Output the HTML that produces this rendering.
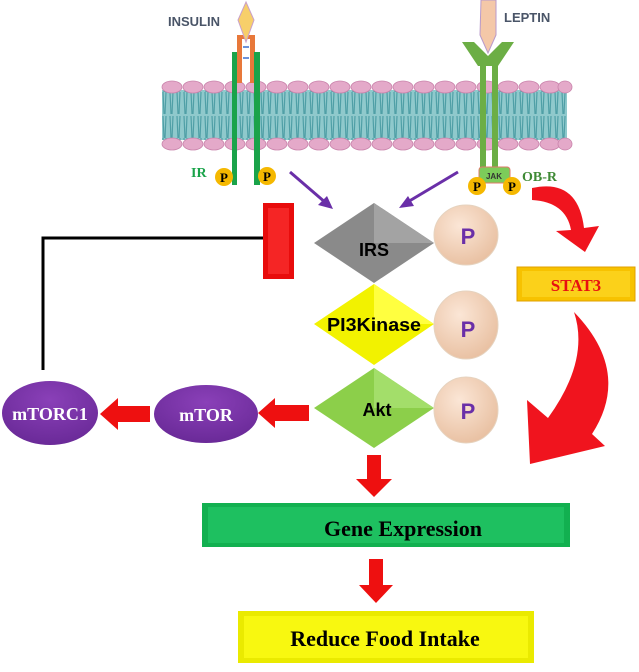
<!DOCTYPE html>
<html><head><meta charset="utf-8"><style>
html,body{margin:0;padding:0;background:#fff;}
svg{display:block;}
</style></head><body>
<svg width="639" height="672" viewBox="0 0 639 672" xmlns="http://www.w3.org/2000/svg">
<defs>
<pattern id="tails" width="7" height="46" patternUnits="userSpaceOnUse">
<rect width="7" height="46" fill="#8fc9cc"/>
<line x1="2" y1="0" x2="3" y2="22" stroke="#4f9fa6" stroke-width="1.2"/>
<line x1="5" y1="0" x2="4" y2="22" stroke="#4f9fa6" stroke-width="1.2"/>
<line x1="2" y1="24" x2="3" y2="46" stroke="#4f9fa6" stroke-width="1.2"/>
<line x1="5" y1="24" x2="4" y2="46" stroke="#4f9fa6" stroke-width="1.2"/>
</pattern>
<radialGradient id="pg" cx="40%" cy="35%" r="70%"><stop offset="0" stop-color="#fbe6d6"/><stop offset="1" stop-color="#e8bfa0"/></radialGradient>
<radialGradient id="vg" cx="50%" cy="30%" r="70%"><stop offset="0" stop-color="#8a40b8"/><stop offset="1" stop-color="#6a2a98"/></radialGradient>
</defs>

<!-- membrane -->
<rect x="162" y="90" width="405" height="50" fill="url(#tails)"/>
<g fill="#e4a9c9" stroke="#c983ab" stroke-width="0.8">
<ellipse cx="172" cy="87" rx="10" ry="6"/><ellipse cx="193" cy="87" rx="10" ry="6"/><ellipse cx="214" cy="87" rx="10" ry="6"/><ellipse cx="235" cy="87" rx="10" ry="6"/><ellipse cx="256" cy="87" rx="10" ry="6"/><ellipse cx="277" cy="87" rx="10" ry="6"/><ellipse cx="298" cy="87" rx="10" ry="6"/><ellipse cx="319" cy="87" rx="10" ry="6"/><ellipse cx="340" cy="87" rx="10" ry="6"/><ellipse cx="361" cy="87" rx="10" ry="6"/><ellipse cx="382" cy="87" rx="10" ry="6"/><ellipse cx="403" cy="87" rx="10" ry="6"/><ellipse cx="424" cy="87" rx="10" ry="6"/><ellipse cx="445" cy="87" rx="10" ry="6"/><ellipse cx="466" cy="87" rx="10" ry="6"/><ellipse cx="487" cy="87" rx="10" ry="6"/><ellipse cx="508" cy="87" rx="10" ry="6"/><ellipse cx="529" cy="87" rx="10" ry="6"/><ellipse cx="550" cy="87" rx="10" ry="6"/><ellipse cx="565" cy="87" rx="7" ry="6"/>
<ellipse cx="172" cy="144" rx="10" ry="6"/><ellipse cx="193" cy="144" rx="10" ry="6"/><ellipse cx="214" cy="144" rx="10" ry="6"/><ellipse cx="235" cy="144" rx="10" ry="6"/><ellipse cx="256" cy="144" rx="10" ry="6"/><ellipse cx="277" cy="144" rx="10" ry="6"/><ellipse cx="298" cy="144" rx="10" ry="6"/><ellipse cx="319" cy="144" rx="10" ry="6"/><ellipse cx="340" cy="144" rx="10" ry="6"/><ellipse cx="361" cy="144" rx="10" ry="6"/><ellipse cx="382" cy="144" rx="10" ry="6"/><ellipse cx="403" cy="144" rx="10" ry="6"/><ellipse cx="424" cy="144" rx="10" ry="6"/><ellipse cx="445" cy="144" rx="10" ry="6"/><ellipse cx="466" cy="144" rx="10" ry="6"/><ellipse cx="487" cy="144" rx="10" ry="6"/><ellipse cx="508" cy="144" rx="10" ry="6"/><ellipse cx="529" cy="144" rx="10" ry="6"/><ellipse cx="550" cy="144" rx="10" ry="6"/><ellipse cx="565" cy="144" rx="7" ry="6"/>
</g>

<!-- insulin receptor -->
<text x="168" y="26" font-family="Liberation Sans, sans-serif" font-weight="bold" font-size="13" fill="#4a5568">INSULIN</text>
<rect x="237" y="35" width="5" height="48" fill="#e8783a"/>
<rect x="250" y="35" width="5" height="48" fill="#e8783a"/>
<rect x="242" y="35" width="8" height="4" fill="#e8783a"/>
<polygon points="246,2 254,20 246,42 238,20" fill="#f7cf6a" stroke="#c9a0c9" stroke-width="1"/>
<rect x="232" y="52" width="5" height="133" fill="#1aa34a"/>
<rect x="254" y="52" width="6" height="133" fill="#1aa34a"/>
<line x1="243" y1="47" x2="249" y2="47" stroke="#3a6fd0" stroke-width="1.5"/>
<line x1="243" y1="58" x2="249" y2="58" stroke="#3a6fd0" stroke-width="1.5"/>
<text x="191" y="177" font-family="Liberation Serif, serif" font-weight="bold" font-size="14" fill="#1aa34a">IR</text>
<circle cx="224" cy="177" r="9" fill="#f5b800"/><text x="224" y="182" text-anchor="middle" font-family="Liberation Serif, serif" font-size="13" font-weight="bold">P</text>
<circle cx="267" cy="176" r="9" fill="#f5b800"/><text x="267" y="181" text-anchor="middle" font-family="Liberation Serif, serif" font-size="13" font-weight="bold">P</text>

<!-- leptin receptor -->
<polygon points="481,0 496,0 496,35 488,53 480,35" fill="#f4c8a8" stroke="#b89acb" stroke-width="1"/>
<text x="504" y="22" font-family="Liberation Sans, sans-serif" font-weight="bold" font-size="13" fill="#4a5568">LEPTIN</text>
<polygon points="462,42 474,42 488,56 502,42 514,42 498,66 478,66" fill="#6cae45"/>
<rect x="480" y="60" width="6" height="110" fill="#6cae45"/>
<rect x="492" y="60" width="6" height="110" fill="#6cae45"/>
<rect x="479" y="167" width="31" height="16" rx="3" fill="#7ccc5a" stroke="#e07a6a" stroke-width="1"/>
<text x="494" y="179" text-anchor="middle" font-family="Liberation Sans, sans-serif" font-size="8" font-weight="bold" fill="#333">JAK</text>
<circle cx="477" cy="186" r="9" fill="#f5b800"/><text x="477" y="191" text-anchor="middle" font-family="Liberation Serif, serif" font-size="13" font-weight="bold">P</text>
<circle cx="512" cy="186" r="9" fill="#f5b800"/><text x="512" y="191" text-anchor="middle" font-family="Liberation Serif, serif" font-size="13" font-weight="bold">P</text>
<text x="522" y="181" font-family="Liberation Serif, serif" font-weight="bold" font-size="14" fill="#3f8a35">OB-R</text>

<!-- purple arrows -->
<g stroke="#6a2fa8" stroke-width="3" fill="#6a2fa8">
<line x1="290" y1="172" x2="326" y2="203"/>
<line x1="458" y1="172" x2="406" y2="203"/>
</g>
<polygon points="333,209 318,205 327,196" fill="#6a2fa8"/>
<polygon points="399,208 408,196 414,206" fill="#6a2fa8"/>

<!-- inhibition -->
<polyline points="263,238 43,238 43,370" fill="none" stroke="#000" stroke-width="3"/>
<rect x="263" y="203" width="31" height="76" fill="#e80c0c"/>
<rect x="268" y="208" width="21" height="66" fill="#f52525"/>

<!-- diamonds -->
<polygon points="374,203 434,243 374,283 314,243" fill="#8a8a8a"/>
<polygon points="374,203 434,243 374,243" fill="#a3a3a3"/>
<text x="374" y="256" text-anchor="middle" font-family="Liberation Sans Narrow, Liberation Sans, sans-serif" font-weight="bold" font-size="18">IRS</text>
<polygon points="374,284 434,324 374,365 314,324" fill="#f2f200"/>
<polygon points="374,284 434,324 374,324" fill="#ffff40"/>
<text x="374" y="331" text-anchor="middle" font-family="Liberation Sans Narrow, Liberation Sans, sans-serif" font-weight="bold" font-size="18" textLength="94" lengthAdjust="spacingAndGlyphs">PI3Kinase</text>
<polygon points="374,368 434,408 374,448 314,408" fill="#8ccf4a"/>
<polygon points="374,368 434,408 374,408" fill="#a3de6a"/>
<text x="377" y="416" text-anchor="middle" font-family="Liberation Sans Narrow, Liberation Sans, sans-serif" font-weight="bold" font-size="18">Akt</text>

<!-- P circles -->
<g font-family="Liberation Sans, sans-serif" font-size="22" font-weight="bold" fill="#6a2fa8" text-anchor="middle">
<ellipse cx="466" cy="235" rx="32" ry="30" fill="url(#pg)" stroke="#e6d3bf"/>
<text x="468" y="244">P</text>
<ellipse cx="466" cy="325" rx="32" ry="34" fill="url(#pg)" stroke="#e6d3bf"/>
<text x="468" y="337">P</text>
<ellipse cx="466" cy="410" rx="32" ry="33" fill="url(#pg)" stroke="#e6d3bf"/>
<text x="468" y="419">P</text>
</g>

<!-- STAT3 -->
<rect x="517" y="267" width="118" height="34" fill="#f7c200" stroke="#e0a000"/>
<rect x="522" y="271" width="108" height="26" fill="#fbd11a"/>
<text x="576" y="291" text-anchor="middle" font-family="Liberation Serif, serif" font-weight="bold" font-size="17" fill="#e81010">STAT3</text>

<!-- red curved arrows -->
<path d="M532,188 Q578,178 584,228 L599,226 L585,252 L556,231 L571,230 Q566,202 532,200 Z" fill="#f0141e"/>
<path d="M574,312 Q632,372 592,434 L605,446 L530,464 L527,400 L548,418 Q590,360 574,312 Z" fill="#f0141e"/>

<!-- horizontal red arrows -->
<polygon points="309,405 275,405 275,398 258,413 275,428 275,421 309,421" fill="#ee1010"/>
<polygon points="150,406 118,406 118,398 100,414 118,430 118,422 150,422" fill="#ee1010"/>

<!-- mTOR ellipses -->
<ellipse cx="50" cy="413" rx="48" ry="32" fill="url(#vg)"/>
<text x="50" y="420" text-anchor="middle" font-family="Liberation Serif, serif" font-weight="bold" font-size="18" fill="#fff">mTORC1</text>
<ellipse cx="206" cy="414" rx="52" ry="29" fill="url(#vg)"/>
<text x="206" y="421" text-anchor="middle" font-family="Liberation Serif, serif" font-weight="bold" font-size="18" fill="#fff">mTOR</text>

<!-- down arrows -->
<polygon points="367,455 381,455 381,479 392,479 374,497 356,479 367,479" fill="#ee1010"/>
<polygon points="369,559 383,559 383,585 393,585 376,603 359,585 369,585" fill="#ee1010"/>

<!-- Gene expression -->
<rect x="202" y="503" width="368" height="44" fill="#12b050"/>
<rect x="208" y="507" width="356" height="36" fill="#1ec060"/>
<text x="403" y="536" text-anchor="middle" font-family="Liberation Serif, serif" font-weight="bold" font-size="22">Gene Expression</text>

<!-- Reduce food intake -->
<rect x="238" y="611" width="296" height="52" fill="#eaea00"/>
<rect x="244" y="616" width="284" height="42" fill="#f8f810"/>
<text x="385" y="646" text-anchor="middle" font-family="Liberation Serif, serif" font-weight="bold" font-size="22">Reduce Food Intake</text>
</svg>
</body></html>
